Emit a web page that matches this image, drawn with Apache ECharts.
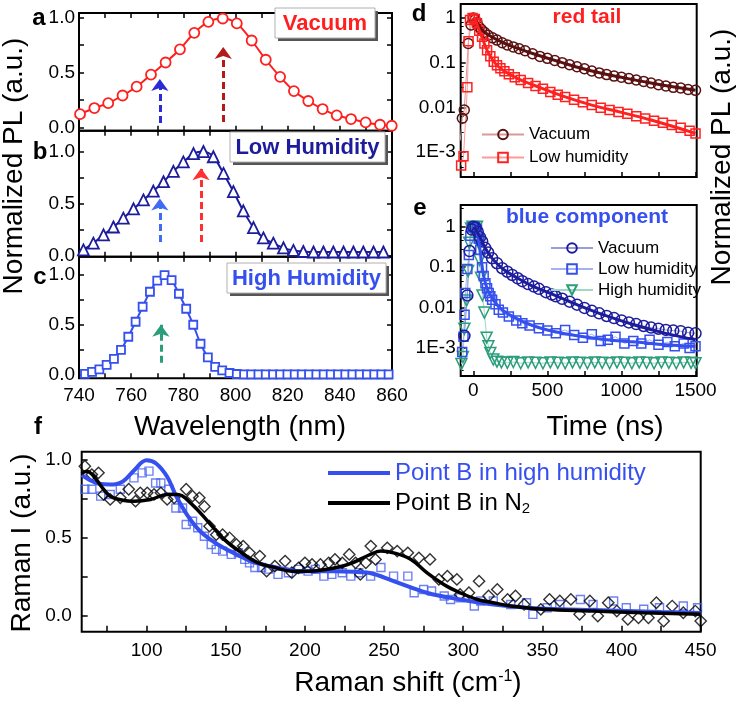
<!DOCTYPE html>
<html><head><meta charset="utf-8">
<script src="https://cdn.jsdelivr.net/npm/echarts/dist/echarts.min.js"></script>
<style>html,body{margin:0;padding:0;background:#fff}#c{width:737px;height:703px}</style>
</head><body><div id="c"></div>
<script>
// ---------- Panel a/b/c : PL spectra ----------
const waveA = [740.4,745.9,751.2,756.7,762.1,767.6,773.2,778.7,784.2,789.6,795.1,800.5,806.2,811.6,817.1,822.4,827.9,833.4,838.8,844.3,849.9,855.4,859.9];
const plA   = [0.12,0.176,0.22,0.29,0.37,0.48,0.59,0.71,0.86,0.96,0.99,0.945,0.79,0.615,0.46,0.33,0.24,0.167,0.11,0.076,0.045,0.024,0.015];
const waveB = [741.7,745.5,749.4,753.2,757.0,760.9,764.7,768.5,772.4,776.2,780.0,783.9,787.7,791.5,795.4,799.2,803.0,806.9,810.7,814.5,818.4,822.2,826.0,829.9,833.7,837.5,841.4,845.2,849.0,852.9,856.7];
const plB   = [0.055,0.12,0.2,0.275,0.36,0.45,0.535,0.62,0.71,0.81,0.90,0.98,1.0,0.95,0.79,0.615,0.43,0.27,0.17,0.12,0.075,0.05,0.04,0.035,0.035,0.035,0.035,0.035,0.035,0.035,0.035];
const waveC = [742.3,745.0,747.8,750.6,753.4,756.1,758.9,761.7,764.4,767.2,770.0,772.8,775.5,778.3,781.1,783.8,786.6,789.4,792.2,794.9,797.7,800.5,803.3,806.0,808.8,811.6,814.4,817.1,819.9,822.7,825.4,828.2,831.0,833.8,836.5,839.3,842.1,844.8,847.6,850.4,853.2,855.9,858.7];
const plC   = [0.01,0.03,0.055,0.1,0.16,0.25,0.38,0.53,0.68,0.83,0.94,0.995,0.945,0.81,0.66,0.5,0.31,0.175,0.08,0.045,0.018,0.008,0.005,0.004,0.004,0.005,0.004,0.004,0.004,0.005,0.004,0.004,0.004,0.004,0.005,0.004,0.004,0.004,0.004,0.004,0.005,0.004,0.004];
// arrows: [wavelength, from, to]
const arrowsA = [[771,0.04,0.44],[795.3,0.05,0.73]];
const arrowsB = [[771,0.13,0.55],[786.8,0.13,0.84]];
const arrowsC = [[771.4,0.12,0.5]];
const wlTicks = [740,750,760,770,780,790,800,810,820,830,840,850,860];
const wlLabels = [740,760,780,800,820,840,860];
const plTicks = [0,0.25,0.5,0.75,1.0];
const plLabels = [0,0.5,1.0];

// ---------- Panel d : red tail ----------
const dVacT = [-88,-74,-61,-34,-15,0,12,25,40,55,75,100,130,160,195,230,270,310,350,400,450,500,550,600,650,700,750,800,850,900,950,1000,1050,1100,1150,1200,1250,1300,1350,1400,1450,1500];
const dVac  = [0.0018,0.0057,0.0087,0.27,0.7,1.0,0.92,0.78,0.62,0.55,0.48,0.41,0.36,0.32,0.28,0.25,0.225,0.205,0.185,0.158,0.138,0.125,0.112,0.10,0.09,0.081,0.073,0.065,0.059,0.054,0.050,0.047,0.044,0.041,0.038,0.035,0.032,0.030,0.028,0.027,0.025,0.024];
const dLowT = [-82,-66,-40,-32,-22,-5,10,25,40,59,75,93,115,138,160,183,210,240,280,320,370,420,470,520,570,620,680,740,800,860,920,980,1040,1100,1160,1220,1280,1340,1400,1460,1500];
const dLow  = [0.0005,0.0008,0.028,0.3,0.9,1.0,0.95,0.76,0.52,0.38,0.27,0.19,0.14,0.105,0.088,0.075,0.064,0.055,0.047,0.041,0.035,0.030,0.026,0.022,0.019,0.017,0.0148,0.013,0.0112,0.0098,0.0087,0.0079,0.0072,0.0063,0.0056,0.005,0.0045,0.004,0.0035,0.003,0.0026];
const dVacFitT = [0,10,50,100,200,300,400,600,800,1000,1200,1500];
const dVacFit  = [1.0,0.95,0.58,0.42,0.28,0.21,0.16,0.10,0.065,0.047,0.035,0.024];
const dLowFitT = [0,10,30,60,100,150,200,300,400,600,800,1000,1200,1500];
const dLowFit  = [1.0,0.95,0.65,0.36,0.17,0.095,0.068,0.044,0.032,0.018,0.0112,0.0077,0.0052,0.0026];

// ---------- Panel e : blue component ----------
const eVacT = [-60,-40,-25,-10,0,15,30,45,60,80,100,127,160,195,230,263,300,331,370,410,443,490,530,557,600,650,700,750,800,850,900,950,1000,1050,1100,1150,1200,1250,1300,1350,1400,1450,1500];
const eVac  = [0.002,0.02,0.25,0.85,1.0,0.95,0.75,0.55,0.43,0.30,0.23,0.166,0.125,0.094,0.077,0.064,0.053,0.045,0.038,0.033,0.029,0.024,0.021,0.019,0.0165,0.014,0.0118,0.0098,0.0083,0.0072,0.0062,0.0055,0.0048,0.0043,0.0039,0.0035,0.0032,0.003,0.0028,0.0027,0.0026,0.0024,0.0023];
const eLowT = [-75,-66,-59,-54,-40,-30,-20,-5,10,25,37,47,59,70,82,93,104,115,127,150,172,200,240,290,331,380,443,500,557,620,681,740,800,860,908,960,1020,1080,1134,1190,1250,1310,1360,1420,1460,1500];
const eLow  = [0.0008,0.0019,0.0066,0.023,0.09,0.2,0.6,0.95,1.0,0.85,0.5,0.27,0.10,0.06,0.04,0.03,0.023,0.019,0.0155,0.012,0.0088,0.0075,0.006,0.0048,0.0041,0.0036,0.0031,0.0027,0.0023,0.0028,0.0021,0.0018,0.0022,0.0015,0.0016,0.0019,0.0013,0.0015,0.0013,0.0016,0.0012,0.0014,0.0011,0.0013,0.001,0.0011];
const eHighT = [-80,-70,-60,-45,-35,-28,-15,-5,5,15,25,35,42,52,62,75,90,102,115,135,160,190,230,270,320,370,420,470,520,570,620,670,720,770,820,870,920,970,1020,1070,1120,1170,1220,1270,1320,1370,1420,1470,1500];
const eHigh  = [0.0004,0.0006,0.003,0.015,0.08,0.4,0.9,1.0,0.92,0.85,1.0,0.4,0.15,0.055,0.02,0.0075,0.0018,0.0011,0.00075,0.00052,0.00046,0.00044,0.00043,0.00045,0.00042,0.00044,0.00043,0.00042,0.00044,0.00043,0.00042,0.00044,0.00043,0.00042,0.00044,0.00043,0.00042,0.00044,0.00043,0.00042,0.00044,0.00043,0.00042,0.00044,0.00043,0.00042,0.00044,0.00043,0.00042];
const eVacFitT = [5,40,80,130,200,300,400,500,700,900,1100,1300,1500];
const eVacFit  = [1.0,0.6,0.3,0.16,0.09,0.053,0.034,0.024,0.0118,0.0062,0.0036,0.0023,0.0016];
const eLowFitT = [10,30,50,70,100,150,200,300,400,500,700,900,1100,1300,1500];
const eLowFit  = [1.0,0.6,0.2,0.06,0.026,0.013,0.0085,0.0052,0.0036,0.0028,0.002,0.0016,0.0014,0.0012,0.0011];
const timeTicks = [0,250,500,750,1000,1250,1500];
const timeLabels = [0,500,1000,1500];
const logTickValues = [0.001,0.01,0.1,1];
const logTickText = ['1E-3','0.01','0.1','1'];

// ---------- Panel f : Raman ----------
const fBlueSqX = [61,65.4,71,77,83.4,92,97.2,101.5,105.7,109,114,118.5,122.7,125,129,132.3,136.5,140.8,144,148,153.5,158,162,165,168.4,172.6,177,183,189.6,196,202,206.6,212,217,223.6,229,234,241.5,248,256,265,269,275,280,288,292,298,307,311,319,330,340,344,353,361,374,382,395,403,414,424,439,448];
const fBlueSqY = [0.81,0.81,0.766,0.777,0.81,0.883,0.915,0.926,0.85,0.85,0.81,0.69,0.69,0.585,0.606,0.564,0.51,0.457,0.426,0.415,0.394,0.404,0.362,0.34,0.31,0.31,0.30,0.266,0.277,0.298,0.287,0.298,0.255,0.266,0.277,0.255,0.277,0.255,0.31,0.255,0.255,0.149,0.17,0.16,0.128,0.106,0.117,0.064,0.096,0.096,0.074,0.085,0.011,0.053,0.074,0.106,0.074,0.096,0.053,0.043,0.053,0.064,0.053];
const fBlackX = [61,65.4,69.6,72.8,77,83.4,88.7,93,96,100.4,104.7,109,113,117.4,125,129,133.3,136.5,139.7,144,148,152.4,156.7,161,165,171.5,175.8,181,187.5,191.7,196,200,204.5,209.8,215,219,223.6,228,232,235,238.5,241.6,244.6,252,258.3,265,272,279,284.6,290,296,298,303.6,310,316,321.5,328,333,338.5,349,354.5,361,368,373.5,380,385,391.6,397,404,410.7,417,422,426.6,432,439,446.6,450];
const fBlackY = [0.957,0.904,0.915,0.777,0.745,0.755,0.81,0.734,0.787,0.787,0.777,0.787,0.745,0.755,0.81,0.766,0.755,0.70,0.574,0.52,0.52,0.5,0.457,0.447,0.404,0.383,0.287,0.319,0.351,0.277,0.308,0.34,0.33,0.33,0.34,0.362,0.34,0.394,0.34,0.266,0.34,0.447,0.362,0.436,0.415,0.404,0.372,0.362,0.234,0.255,0.234,0.138,0.149,0.223,0.128,0.17,0.106,0.128,0.074,0.043,0.106,0.096,0.106,0.011,0.096,0.0,0.085,0.032,-0.021,-0.011,-0.011,0.085,-0.032,0.064,0.021,0.032,-0.032];
const fBlueFitX = [59,64,70,77,85,92,100,106,113,118.5,126,134,145,155.6,166,177,187.5,198,219,235,241,256,277,298,319,340,361,382,403,425,450];
const fBlueFitY = [0.90,0.87,0.845,0.84,0.86,0.93,0.995,0.975,0.89,0.77,0.64,0.54,0.457,0.40,0.35,0.32,0.30,0.287,0.287,0.28,0.275,0.223,0.149,0.106,0.074,0.053,0.043,0.038,0.032,0.026,0.02];
const fBlackFitX = [59,62,66,72,77,85,92,102.5,113,119.5,128,138.6,149,160,170.5,181,191.7,202,213,222,230,240.5,248,256,267,277,288,298,309,319,330,351,382,414,450];
const fBlackFitY = [0.91,0.925,0.90,0.82,0.766,0.74,0.734,0.745,0.776,0.776,0.72,0.606,0.49,0.404,0.34,0.31,0.287,0.287,0.298,0.315,0.34,0.39,0.415,0.404,0.362,0.277,0.2,0.149,0.106,0.085,0.064,0.043,0.032,0.021,0.011];
const ramanTicks = [75,100,125,150,175,200,225,250,275,300,325,350,375,400,425,450];
const ramanLabels = [100,150,200,250,300,350,400,450];

// ---------------------------------------------------------------
const FONT = '"Liberation Sans", Arial, Helvetica, sans-serif';
const pairs = (xs, ys) => xs.map((x, i) => [x, ys[i]]);
const tick = (vals, len) => ({show:true, inside:true, length:len || 5, lineStyle:{color:'#000', width:1.5}, customValues: vals});
const lbl = (show, vals, margin, fmt) => ({show, customValues: vals, fontSize:19, color:'#000', fontFamily:FONT, margin, formatter: fmt || (v => String(v))});
const noLine = {show:false, onZero:false};
const noSplit = {show:false};

function wlAxis(gi, pos, show) {
  return {type:'value', gridIndex:gi, position:pos, min:740, max:860, axisLine:noLine, splitLine:noSplit,
    axisTick:tick(wlTicks, 5), axisLabel:lbl(show, wlLabels, 8)};
}
function plAxis(gi, pos, min, max, show) {
  return {type:'value', gridIndex:gi, position:pos, min, max, axisLine:noLine, splitLine:noSplit,
    axisTick:tick(plTicks, 5), axisLabel:lbl(show, plLabels, 4, v => v.toFixed(1))};
}
function timeAxis(gi, show) {
  return {type:'value', gridIndex:gi, position:'bottom', min:-85, max:1508, axisLine:noLine, splitLine:noSplit,
    axisTick:tick(timeTicks, 5), axisLabel:lbl(show, timeLabels, 5)};
}
function logFmt(v) {
  for (let i = 0; i < logTickValues.length; i++) {
    if (Math.abs(Math.log10(v) - Math.log10(logTickValues[i])) < 1e-6) return logTickText[i];
  }
  return '';
}
function logAxis(gi, min, max) {
  return {type:'log', logBase:10, gridIndex:gi, position:'left', min, max, axisLine:noLine, splitLine:noSplit,
    axisTick:{show:true, inside:true, length:5, lineStyle:{color:'#000', width:1.5}},
    minorTick:{show:true, splitNumber:5, length:3, lineStyle:{color:'#000', width:1}},
    axisLabel:{show:true, fontSize:19, color:'#000', fontFamily:FONT, margin:5, formatter: logFmt, showMinLabel:false, showMaxLabel:false}};
}
const gridStyle = {show:true, borderColor:'#000', borderWidth:2, backgroundColor:'rgba(0,0,0,0)'};

function arrowLines(list) {
  return {silent:true, symbol:['none','arrow'], symbolSize:[13,12], animation:false, label:{show:false},
    data: list.map(a => [{coord:[a[0], a[1]], lineStyle:{color: a[3], type:[7,4], width:3}}, {coord:[a[0], a[2]]}])};
}
const arrowsAc = arrowsA.map((a, i) => a.concat([i === 0 ? '#2a2ad6' : '#b51a1a']));
const arrowsBc = arrowsB.map((a, i) => a.concat([i === 0 ? '#3f6cf2' : '#ff3030']));
const arrowsCc = arrowsC.map(a => a.concat(['#2a9d7a']));

function specSeries(xi, data, color, symbol, size, arrows) {
  return {type:'line', xAxisIndex:xi, yAxisIndex:xi, data, smooth:0.3, symbol, symbolSize:size,
    itemStyle:{color:'#fff', borderColor:color, borderWidth:1.8}, lineStyle:{color, width:2},
    markLine: arrowLines(arrows), z:3};
}
function decaySeries(name, xi, data, color, lineColor, symbol, size, rotate) {
  return {name, type:'line', xAxisIndex:xi, yAxisIndex:xi, data, symbol, symbolSize:size, symbolRotate: rotate || 0,
    itemStyle:{color:'rgba(255,255,255,0)', borderColor:color, borderWidth:1.5}, lineStyle:{color:lineColor, width:1}};
}
function fitSeries(xi, data, color, width) {
  return {type:'line', xAxisIndex:xi, yAxisIndex:xi, data, symbol:'none', smooth:0.4, lineStyle:{color, width}, z:4};
}

const RED = '#ff1f1f', DBLUE = '#1c1c9c', BLUE = '#3550ee', MAROON = '#5a1010', GREEN = '#2a9d7a';

function txt(x, y, text, size, opts) {
  opts = opts || {};
  return {type:'text', x, y, rotation: opts.rot || 0, z:100,
    style:{text, fontSize:size, fontFamily:FONT, fontWeight: opts.bold ? 'bold' : 'normal', fill: opts.color || '#000',
      align:'center', verticalAlign:'middle', rich: opts.rich}};
}
function box(x, y, w, h, text, color) {
  return [
    {type:'rect', z:99, shape:{x:x+3, y:y+3, width:w, height:h}, style:{fill:'#555'}},
    {type:'rect', z:99, shape:{x, y, width:w, height:h}, style:{fill:'#fff', stroke:'#b0b0b0', lineWidth:1}},
    txt(x + w/2, y + h/2 + 1, text, 22, {bold:true, color})
  ];
}

const option = {
  animation:false,
  backgroundColor:'#fff',
  grid:[
    Object.assign({left:79, top:13, width:313, height:117.7}, gridStyle),
    Object.assign({left:79, top:130.7, width:313, height:126}, gridStyle),
    Object.assign({left:79, top:256.7, width:313, height:121.6}, gridStyle),
    Object.assign({left:460.7, top:4, width:236, height:173}, gridStyle),
    Object.assign({left:460.7, top:205, width:236, height:171}, gridStyle),
    Object.assign({left:81.7, top:451.7, width:619, height:180}, gridStyle)
  ],
  xAxis:[
    wlAxis(0,'bottom',false), wlAxis(0,'top',false),
    wlAxis(1,'bottom',false), wlAxis(1,'top',false),
    wlAxis(2,'bottom',true),  wlAxis(2,'top',false),
    timeAxis(3,false), timeAxis(4,true),
    {type:'value', gridIndex:5, position:'bottom', min:59, max:450, axisLine:noLine, splitLine:noSplit,
      axisTick:tick(ramanTicks, 6), axisLabel:lbl(true, ramanLabels, 10)}
  ],
  yAxis:[
    plAxis(0,'left',-0.03,1.04,true),  plAxis(0,'right',-0.03,1.04,false),
    plAxis(1,'left',-0.01,1.2,true),   plAxis(1,'right',-0.01,1.2,false),
    plAxis(2,'left',-0.035,1.18,true), plAxis(2,'right',-0.035,1.18,false),
    logAxis(3, 2.75e-4, 2.06), logAxis(4, 2.03e-4, 3.44),
    {type:'value', gridIndex:5, position:'left', min:-0.1, max:1.05, axisLine:noLine, splitLine:noSplit,
      axisTick:tick(plTicks, 6), axisLabel:lbl(true, plLabels, 10, v => v.toFixed(1))}
  ],
  legend:[
    {left:476, top:121, orient:'vertical', itemWidth:42, itemHeight:12, itemGap:6, selectedMode:false,
      textStyle:{fontSize:17, fontFamily:FONT, color:'#000'}, data:['Vacuum','Low humidity']},
    {left:545, top:234.5, orient:'vertical', itemWidth:42, itemHeight:12, itemGap:4, selectedMode:false,
      textStyle:{fontSize:17, fontFamily:FONT, color:'#000'}, formatter: n => n.replace(/^e:/, ''),
      data:['e:Vacuum','e:Low humidity','e:High humidity']},
    {left:323, top:456, orient:'vertical', itemWidth:62, itemHeight:4, itemGap:6, selectedMode:false,
      textStyle:{fontSize:24, fontFamily:FONT, color:'#000', rich:{sub:{fontSize:15, fontFamily:FONT, color:'#000', verticalAlign:'bottom', padding:[12,0,0,0]}}},
      formatter: n => n === 'Point B in N2' ? 'Point B in N{sub|2}' : n,
      data:[{name:'Point B in high humidity', icon:'rect', textStyle:{color:BLUE}}, {name:'Point B in N2', icon:'rect'}]}
  ],
  series:[
    specSeries(0, pairs(waveA, plA), RED, 'circle', 10, arrowsAc),
    specSeries(2, pairs(waveB, plB), DBLUE, 'triangle', 11, arrowsBc),
    specSeries(4, pairs(waveC, plC), BLUE, 'rect', 8, arrowsCc),

    decaySeries('Vacuum', 6, pairs(dVacT, dVac), MAROON, '#d89a9a', 'circle', 10),
    decaySeries('Low humidity', 6, pairs(dLowT, dLow), '#ff2020', '#ff9a9a', 'rect', 9),
    fitSeries(6, pairs(dVacFitT, dVacFit), MAROON, 3),
    fitSeries(6, pairs(dLowFitT, dLowFit), '#ff2020', 3),

    decaySeries('e:High humidity', 7, pairs(eHighT, eHigh), GREEN, '#9fd8c4', 'triangle', 11, 180),
    decaySeries('e:Low humidity', 7, pairs(eLowT, eLow), BLUE, '#a4b2f4', 'rect', 9),
    decaySeries('e:Vacuum', 7, pairs(eVacT, eVac), DBLUE, '#9a9ade', 'circle', 11),
    fitSeries(7, pairs(eLowFitT, eLowFit), BLUE, 3),
    fitSeries(7, pairs(eVacFitT, eVacFit), DBLUE, 3),

    {type:'scatter', xAxisIndex:8, yAxisIndex:8, data:pairs(fBlueSqX, fBlueSqY), symbol:'rect', symbolSize:8,
      itemStyle:{color:'rgba(255,255,255,0)', borderColor:'#4a63f0', borderWidth:1.4}},
    {type:'scatter', xAxisIndex:8, yAxisIndex:8, data:pairs(fBlackX, fBlackY), symbol:'rect', symbolSize:8, symbolRotate:45,
      itemStyle:{color:'rgba(255,255,255,0)', borderColor:'#000', borderWidth:1.4}},
    {name:'Point B in high humidity', type:'line', xAxisIndex:8, yAxisIndex:8, data:pairs(fBlueFitX, fBlueFitY), symbol:'none', smooth:0.4,
      lineStyle:{color:BLUE, width:4}, itemStyle:{color:BLUE}},
    {name:'Point B in N2', type:'line', xAxisIndex:8, yAxisIndex:8, data:pairs(fBlackFitX, fBlackFitY), symbol:'none', smooth:0.4,
      lineStyle:{color:'#000', width:3.5}, itemStyle:{color:'#000'}}
  ],
  graphic:[].concat(
    box(275, 8, 100, 30, 'Vacuum', RED),
    box(230, 132, 155, 30, 'Low Humidity', DBLUE),
    box(227, 263, 159, 30, 'High Humidity', BLUE),
    [
      txt(39, 18, 'a', 24, {bold:true}),
      txt(40, 152, 'b', 24, {bold:true}),
      txt(40, 277, 'c', 24, {bold:true}),
      txt(419, 14, 'd', 24, {bold:true}),
      txt(420, 208, 'e', 24, {bold:true}),
      txt(38, 427, 'f', 24, {bold:true}),
      txt(587, 17, 'red tail', 21, {bold:true, color:RED}),
      txt(587, 217, 'blue component', 21, {bold:true, color:BLUE}),
      txt(240, 427, 'Wavelength (nm)', 28),
      txt(605, 427, 'Time (ns)', 28),
      txt(14, 166, 'Normalized PL (a.u.)', 28, {rot:Math.PI/2}),
      txt(722, 157, 'Normalized PL (a.u.)', 28, {rot:Math.PI/2}),
      txt(22, 543, 'Raman I (a.u.)', 28, {rot:Math.PI/2}),
      txt(408, 683, '{a|Raman shift (cm}{s|-1}{a|)}', 28, {rich:{a:{fontSize:28, fontFamily:FONT, fill:'#000'}, s:{fontSize:16, fontFamily:FONT, fill:'#000', verticalAlign:'top'}}})
    ]
  )
};
const chart = echarts.init(document.getElementById('c'), null, {renderer:'canvas'});
chart.setOption(option);
</script></body></html>
